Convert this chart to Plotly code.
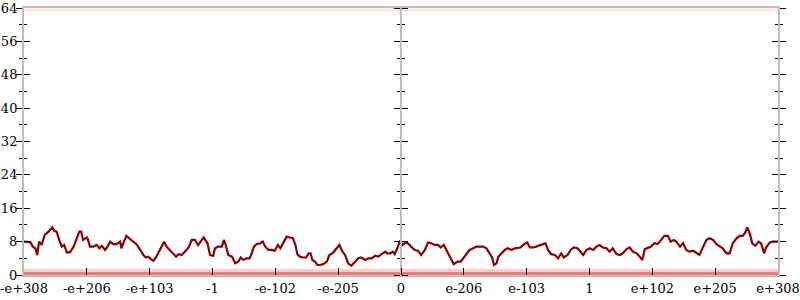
import plotly.graph_objects as go

# tick positions (in "tick units") and labels
tick_pos = list(range(-6, 7))
tick_text = ["-e+308", "-e+206", "-e+103", "-1", "-e-102", "-e-205", "0",
             "e-206", "e-103", "1", "e+102", "e+205", "e+308"]

# main series (x in tick units, y values)
xs = [-6.00, -5.90, -5.86, -5.82, -5.79, -5.76, -5.72, -5.67, -5.61, -5.55, -5.52, -5.48, -5.44, -5.40, -5.36,
      -5.32, -5.27, -5.21, -5.16, -5.12, -5.09, -5.06, -5.00, -4.98, -4.95, -4.90, -4.84, -4.80, -4.76, -4.71,
      -4.67, -4.63, -4.58, -4.53, -4.47, -4.45, -4.41, -4.37, -4.31, -4.26, -4.21, -4.15, -4.10, -4.06, -4.02,
      -3.98, -3.94, -3.90, -3.86, -3.81, -3.77, -3.73, -3.68, -3.62, -3.58, -3.54, -3.49, -3.44, -3.38, -3.33,
      -3.28, -3.23, -3.17, -3.14, -3.08, -3.04, -2.99, -2.96,
      -2.91, -2.85, -2.82, -2.79, -2.75, -2.69, -2.64, -2.59, -2.55, -2.51, -2.46, -2.41, -2.38, -2.34, -2.30,
      -2.24, -2.20, -2.16, -2.11, -2.06, -2.01, -1.96, -1.92, -1.86, -1.82, -1.77, -1.72, -1.68, -1.65, -1.61,
      -1.56, -1.51, -1.47, -1.44, -1.41, -1.37, -1.33, -1.29, -1.24, -1.18, -1.14, -1.09, -1.03, -0.98, -0.94,
      -0.89, -0.84, -0.79, -0.73, -0.68, -0.63, -0.57, -0.52, -0.47, -0.41, -0.36, -0.31, -0.25, -0.22, -0.17,
      -0.13, -0.10, -0.06, -0.02,
      0.00, 0.03, 0.07, 0.11, 0.16, 0.22, 0.27, 0.32, 0.38, 0.43, 0.48, 0.54, 0.59, 0.63, 0.68, 0.74, 0.79,
      0.84, 0.90, 0.95, 1.00, 1.04, 1.09, 1.15, 1.20, 1.25, 1.31, 1.36, 1.41, 1.45, 1.48, 1.52, 1.55, 1.60,
      1.65, 1.70, 1.76, 1.81, 1.86, 1.90, 1.96, 2.01, 2.05, 2.10, 2.15, 2.21, 2.26, 2.30, 2.34, 2.39, 2.45,
      2.50, 2.55, 2.59, 2.65, 2.70, 2.75, 2.81, 2.86, 2.90, 2.95, 3.00, 3.06,
      3.11, 3.16, 3.21, 3.27, 3.32, 3.37, 3.43, 3.48, 3.53, 3.59, 3.64, 3.69, 3.75, 3.80, 3.84, 3.88, 3.93,
      3.98, 4.03, 4.08, 4.13, 4.19, 4.25, 4.29, 4.34, 4.38, 4.44, 4.49, 4.54, 4.59, 4.65, 4.70, 4.75, 4.81,
      4.86, 4.91, 4.97, 5.02, 5.07, 5.12, 5.18, 5.23, 5.28, 5.34, 5.39, 5.44, 5.48, 5.51, 5.55, 5.59, 5.64,
      5.69, 5.73, 5.78, 5.81, 5.87, 5.92, 6.00]
ys = [8.0, 7.9, 6.8, 6.4, 4.8, 8.0, 7.2, 9.6, 10.4, 11.4, 10.6, 10.4, 8.4, 6.8, 7.2,
      5.4, 5.4, 6.8, 8.8, 10.4, 10.4, 8.4, 9.0, 8.4, 6.8, 6.8, 7.2, 6.4, 7.0, 6.0,
      6.8, 8.0, 7.4, 7.4, 8.0, 6.4, 8.0, 9.4, 8.6, 8.0, 7.4, 6.0, 4.8, 4.2, 4.4,
      3.8, 3.4, 4.2, 5.4, 6.6, 8.0, 6.8, 6.0, 5.2, 4.4, 5.0, 4.8, 5.6, 6.6, 8.4,
      8.4, 7.2, 8.4, 9.0, 7.6, 4.8, 4.6, 6.4,
      6.8, 6.8, 8.4, 7.2, 4.8, 4.4, 2.8, 3.2, 4.2, 3.6, 4.0, 4.0, 5.0, 6.8, 7.4,
      7.6, 8.0, 6.8, 6.0, 6.0, 5.8, 7.2, 6.4, 8.0, 9.2, 9.0, 8.8, 7.2, 5.0, 4.4,
      4.2, 4.2, 5.2, 5.2, 3.6, 3.2, 2.4, 2.4, 2.6, 3.2, 4.8, 5.2, 6.2, 7.2, 5.8,
      4.8, 2.8, 2.2, 3.2, 4.0, 4.2, 3.6, 4.0, 4.0, 4.6, 4.4, 5.0, 5.6, 5.2, 5.2,
      5.6, 5.0, 6.4, 8.0,
      7.8, 7.2, 7.8, 7.6, 6.8, 6.0, 5.8, 4.8, 6.0, 7.8, 7.6, 7.2, 7.2, 6.6, 7.2, 5.6, 4.0,
      2.6, 3.2, 3.2, 4.2, 5.0, 6.0, 6.4, 6.8, 6.8, 6.8, 6.4, 5.2, 4.2, 2.4, 2.8, 4.4, 5.2,
      6.0, 6.4, 6.0, 6.4, 6.6, 6.6, 7.4, 7.8, 6.6, 6.6, 6.8, 7.2, 7.4, 7.6, 6.0, 5.0, 4.8,
      4.0, 5.2, 4.2, 4.8, 6.0, 6.6, 6.4, 5.6, 4.8, 6.0, 6.4, 6.0,
      6.8, 7.2, 6.6, 6.4, 5.6, 6.4, 5.0, 4.8, 5.2, 6.2, 6.6, 5.6, 5.2, 4.4, 3.6, 6.2, 6.6,
      6.8, 7.6, 7.4, 8.2, 9.4, 9.4, 8.0, 8.4, 8.0, 6.8, 7.6, 6.0, 5.6, 5.8, 5.2, 4.8, 6.8,
      8.4, 8.8, 8.4, 7.4, 6.8, 6.4, 5.2, 5.2, 7.6, 8.8, 9.4, 9.4, 10.2, 11.4, 10.0, 7.6, 7.0,
      8.0, 7.6, 5.2, 6.6, 7.8, 8.0, 8.0]

# background bands (value extents)
band_x = [-6, 6]
low_band_top = [1.5, 1.5]
low_band_core = [0.35, 0.35]
high_band = [63.5, 63.5]

y_ticks = list(range(0, 65, 8))

fig = go.Figure()

fig.add_trace(go.Scatter(x=band_x, y=low_band_top, fill="tozeroy", mode="lines",
                         line=dict(width=0), fillcolor="rgba(238,80,80,0.28)",
                         hoverinfo="skip", showlegend=False))
fig.add_trace(go.Scatter(x=band_x, y=low_band_core, mode="lines",
                         line=dict(width=2.5, color="rgba(220,30,30,0.55)"),
                         hoverinfo="skip", showlegend=False))
fig.add_trace(go.Scatter(x=band_x, y=high_band, mode="lines",
                         line=dict(width=3, color="rgba(255,90,90,0.15)"),
                         hoverinfo="skip", showlegend=False))
fig.add_trace(go.Scatter(x=xs, y=ys, mode="lines",
                         line=dict(color="#8b0000", width=2.2),
                         hoverinfo="skip", showlegend=False))

for ax in ["y2", "y3", "y4"]:
    fig.add_trace(go.Scatter(x=[None], y=[None], yaxis=ax, mode="lines",
                             showlegend=False, hoverinfo="skip"))

font = dict(family="DejaVu Serif", size=13, color="black")
gray = "#bdbdbd"

common = dict(range=[0, 64], tickvals=y_ticks, showgrid=False, zeroline=False,
              tickcolor="black", tickwidth=1, ticklen=6, tickfont=font, automargin=False)

fig.update_layout(
    width=800, height=300,
    margin=dict(l=24, r=22, t=8, b=25, autoexpand=False),
    paper_bgcolor="white", plot_bgcolor="white",
    font=font,
    xaxis=dict(range=[-6, 6], tickvals=tick_pos, ticktext=tick_text,
               ticks="inside", ticklen=7, tickcolor="black", tickwidth=1,
               showline=True, linecolor=gray, linewidth=2, mirror=True,
               showgrid=False, zeroline=False, tickfont=font, automargin=False),
    yaxis=dict(**common, ticks="outside", showline=True, linecolor=gray, linewidth=2,
               mirror="ticks", ticklabelstandoff=-4,
               minor=dict(ticks="outside", ticklen=3, dtick=4, tickcolor="black")),
    yaxis2=dict(**common, overlaying="y", anchor="x", side="left", ticks="inside",
                mirror="ticks", showline=False, showticklabels=False,
                minor=dict(ticks="inside", ticklen=3, dtick=4, tickcolor="black")),
    yaxis3=dict(**common, overlaying="y", anchor="free", position=0.5, side="left",
                ticks="outside", showline=True, linecolor=gray, linewidth=2,
                showticklabels=False,
                minor=dict(ticks="outside", ticklen=3, dtick=4, tickcolor="black")),
    yaxis4=dict(**common, overlaying="y", anchor="free", position=0.5, side="right",
                ticks="outside", showline=False, showticklabels=False,
                minor=dict(ticks="outside", ticklen=3, dtick=4, tickcolor="black")),
)

fig.write_html("out.html")
